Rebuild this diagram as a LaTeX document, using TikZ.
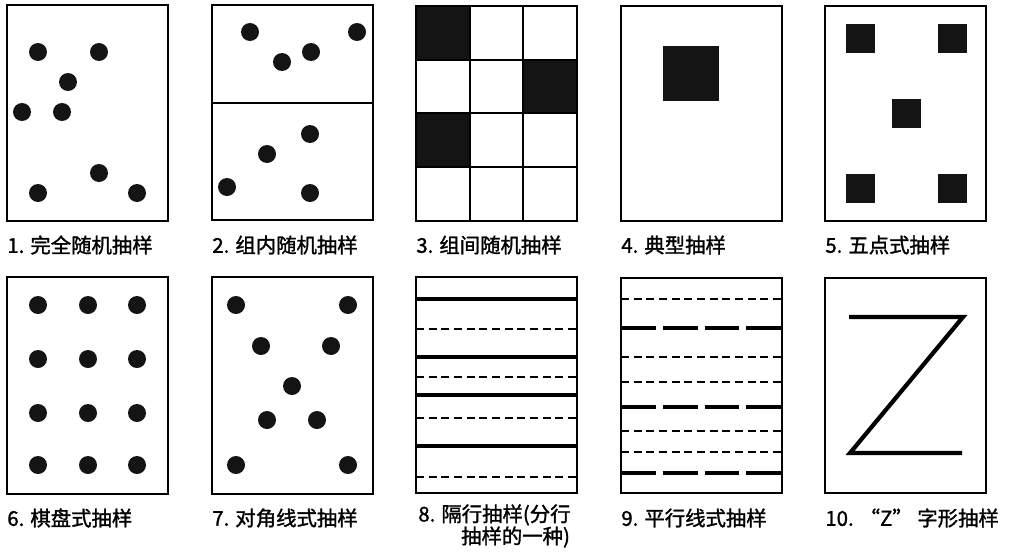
\documentclass[tikz,border=0pt]{standalone}
\usepackage{fontspec}
\setmainfont{Liberation Serif}
\newfontfamily\cjk[FakeBold=1.4]{Noto Sans CJK SC}
\usetikzlibrary{positioning}

\begin{document}
\begin{tikzpicture}[
    x=0.02cm, y=-0.02cm,
    frame/.style={line width=1.6pt},
    gridline/.style={line width=1.4pt},
    blob/.style={fill=black!92},
    heavy/.style={line width=2.4pt},
    thindash/.style={line width=1.1pt, dash pattern=on 4.6pt off 2.6pt},
    thickdash/.style={line width=2.4pt, dash pattern=on 19.8pt off 4pt},
    lbl/.style={anchor=west, inner sep=0, align=left,
                font=\cjk\fontsize{11.6}{12.6}\selectfont}
  ]
    \useasboundingbox (0,0) rectangle (1010,551);

    % 1. complete random
    \draw[frame] (7,5) rectangle (168,221);
    \foreach \px/\py in {38/52, 99/52, 68/82, 22/112, 62/112, 99/173, 38/193, 137/193}
      \fill[blob] (\px,\py) circle [radius=9];
    \node[lbl] (lbl1) at (7,245) {1. 完全随机抽样};

    % 2. random within groups
    \draw[frame] (212,5) rectangle (373,220);
    \draw[gridline] (212,103) -- (373,103);
    \foreach \px/\py in {250/32, 357/32, 282/62, 311/52, 310/134, 267/154, 227/187, 310/193}
      \fill[blob] (\px,\py) circle [radius=9];
    \node[lbl] (lbl2) at (212,245) {2. 组内随机抽样};

    % 3. random between groups
    \fill[blob] (416,6) rectangle (470,60);
    \fill[blob] (523,60) rectangle (577,113);
    \fill[blob] (416,113) rectangle (470,167);
    \foreach \gx in {470,523}
      \draw[gridline] (\gx,6) -- (\gx,221);
    \foreach \gy in {60,113,167}
      \draw[gridline] (416,\gy) -- (577,\gy);
    \draw[frame] (416,6) rectangle (577,221);
    \node[lbl] (lbl3) at (416,245) {3. 组间随机抽样};

    % 4. typical
    \draw[frame] (621,6) rectangle (782,221);
    \fill[blob] (663,46) rectangle (719,101);
    \node[lbl] (lbl4) at (621,245) {4. 典型抽样};

    % 5. five points
    \draw[frame] (825,6) rectangle (986,221);
    \foreach \px/\py in {846/24, 938/24, 892/99, 846/174, 938/174}
      \fill[blob] (\px,\py) rectangle ++(29,29);
    \node[lbl] (lbl5) at (825,245) {5. 五点式抽样};

    % 6. checkerboard
    \draw[frame] (7,277) rectangle (168,494);
    \foreach \px in {38,88,137}
      \foreach \py in {305,359,413,465}
        \fill[blob] (\px,\py) circle [radius=9];
    \node[lbl] (lbl6) at (7,518) {6. 棋盘式抽样};

    % 7. diagonal
    \draw[frame] (212,277) rectangle (373,494);
    \foreach \px/\py in {236/305, 348/305, 261/346, 331/346, 292/386, 267/420, 317/420, 236/465, 348/465}
      \fill[blob] (\px,\py) circle [radius=9];
    \node[lbl] (lbl7) at (212,518) {7. 对角线式抽样};

    % 8. alternate rows
    \foreach \ly in {299,357,395,446}
      \draw[heavy] (416,\ly) -- (577,\ly);
    \foreach \ly in {329,377,418,477}
      \draw[thindash] (416,\ly) -- (577,\ly);
    \draw[frame] (416,277) rectangle (577,493);
    \node[lbl] (lbl8) at (418,526) {8. 隔行抽样(分行\\\hspace*{2.1em}抽样的一种)};

    % 9. parallel lines
    \foreach \ly in {299,357,382,431,452}
      \draw[thindash] (621,\ly) -- (782,\ly);
    \foreach \ly in {328,407,473}
      \draw[thickdash] (621,\ly) -- (782,\ly);
    \draw[frame] (621,278) rectangle (782,493);
    \node[lbl] (lbl9) at (621,518) {9. 平行线式抽样};

    % 10. Z shape
    \draw[frame] (825,278) rectangle (986,493);
    \draw[heavy, line join=miter] (849,317) -- (963,317) -- (850,453) -- (962,453);
    \node[lbl] (lbl10) at (825,518) {10. “Z” 字形抽样};
  \end{tikzpicture}
\end{document}
